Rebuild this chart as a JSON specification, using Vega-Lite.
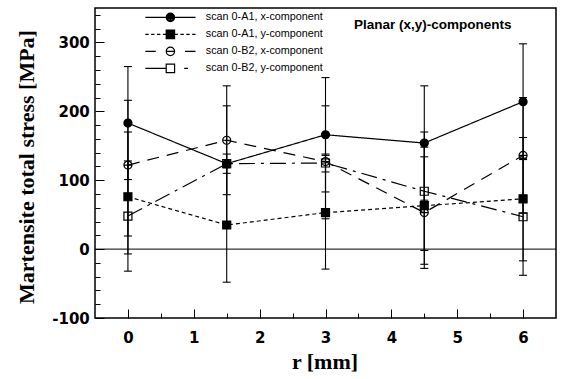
{
  "$schema": "https://vega.github.io/schema/vega-lite/v6.json",
  "width": 461,
  "height": 310,
  "autosize": {"type": "none"},
  "padding": {"left": 95, "top": 8, "right": 7, "bottom": 61},
  "background": "white",
  "config": {
    "view": {"stroke": "black", "strokeWidth": 1.5},
    "axis": {"grid": false, "domain": false, "tickColor": "black", "tickWidth": 1, "labelColor": "black", "titleColor": "black", "labelOverlap": false}
  },
  "title": {
    "text": "Planar (x,y)-components",
    "anchor": "start",
    "frame": "group",
    "offset": 0,
    "dx": 259,
    "dy": 34,
    "baseline": "alphabetic",
    "font": "Liberation Sans",
    "fontSize": 13.5,
    "fontWeight": "bold",
    "color": "black"
  },
  "data": {
    "values": [
      {"r": 0, "series": "scan 0-A1, x-component", "val": 183, "lo": 101, "hi": 265},
      {"r": 0, "series": "scan 0-A1, y-component", "val": 76, "lo": -7, "hi": 170},
      {"r": 0, "series": "scan 0-B2, x-component", "val": 122, "lo": 19, "hi": 216},
      {"r": 0, "series": "scan 0-B2, y-component", "val": 48, "lo": -32, "hi": 128},
      {"r": 1.5, "series": "scan 0-A1, x-component", "val": 124, "lo": 40, "hi": 208},
      {"r": 1.5, "series": "scan 0-A1, y-component", "val": 35, "lo": -48, "hi": 118},
      {"r": 1.5, "series": "scan 0-B2, x-component", "val": 158, "lo": 79, "hi": 237},
      {"r": 1.5, "series": "scan 0-B2, y-component", "val": 124, "lo": 110, "hi": 138},
      {"r": 3, "series": "scan 0-A1, x-component", "val": 166, "lo": 83, "hi": 249},
      {"r": 3, "series": "scan 0-A1, y-component", "val": 53, "lo": -29, "hi": 136},
      {"r": 3, "series": "scan 0-B2, x-component", "val": 127, "lo": 44, "hi": 208},
      {"r": 3, "series": "scan 0-B2, y-component", "val": 125, "lo": 112, "hi": 138},
      {"r": 4.5, "series": "scan 0-A1, x-component", "val": 154, "lo": 71, "hi": 237},
      {"r": 4.5, "series": "scan 0-A1, y-component", "val": 63, "lo": -22, "hi": 148},
      {"r": 4.5, "series": "scan 0-B2, x-component", "val": 53, "lo": -28, "hi": 134},
      {"r": 4.5, "series": "scan 0-B2, y-component", "val": 84, "lo": -2, "hi": 170},
      {"r": 6, "series": "scan 0-A1, x-component", "val": 214, "lo": 130, "hi": 298},
      {"r": 6, "series": "scan 0-A1, y-component", "val": 73, "lo": -17, "hi": 162},
      {"r": 6, "series": "scan 0-B2, x-component", "val": 136, "lo": 52, "hi": 220},
      {"r": 6, "series": "scan 0-B2, y-component", "val": 47, "lo": -38, "hi": 132}
    ]
  },
  "layer": [
    {
      "data": {"values": [{"zero": 0}]},
      "mark": {"type": "rule", "color": "black", "strokeWidth": 1},
      "encoding": {
        "y": {"field": "zero", "type": "quantitative", "scale": {"domain": [-100, 350], "nice": false, "zero": false}, "axis": null}
      }
    },
    {
      "mark": {"type": "rule", "color": "black", "strokeWidth": 1.1, "opacity": 1},
      "encoding": {
        "x": {
          "field": "r", "type": "quantitative",
          "scale": {"domain": [-0.5, 6.5], "nice": false, "zero": false},
          "axis": {
            "orient": "bottom",
            "values": [0, 1, 2, 3, 4, 5, 6],
            "labelExpr": "'' + datum.value",
            "tickSize": -9,
            "labelPadding": 21,
            "labelFont": "DejaVu Sans", "labelFontWeight": "bold", "labelFontSize": 15,
            "title": "r [mm]",
            "titleFont": "Liberation Serif", "titleFontWeight": "bold", "titleFontSize": 22,
            "titleX": 229.5, "titleY": 50, "titleBaseline": "alphabetic", "titleAlign": "center"
          }
        },
        "y": {
          "field": "lo", "type": "quantitative",
          "scale": {"domain": [-100, 350], "nice": false, "zero": false},
          "axis": {
            "orient": "left",
            "values": [-100, 0, 100, 200, 300],
            "labelExpr": "'' + datum.value",
            "tickSize": -9,
            "labelPadding": 14.7,
            "labelFont": "DejaVu Sans", "labelFontWeight": "bold", "labelFontSize": 15,
            "title": "Martensite total stress [MPa]",
            "titleFont": "Liberation Serif", "titleFontWeight": "bold", "titleFontSize": 22,
            "titleX": -62, "titleY": 158.5, "titleAngle": -90, "titleBaseline": "alphabetic", "titleAlign": "center"
          }
        },
        "y2": {"field": "hi"}
      }
    },
    {
      "mark": {"type": "tick", "orient": "horizontal", "size": 8, "thickness": 1.1, "color": "black", "opacity": 1},
      "encoding": {
        "x": {
          "field": "r", "type": "quantitative",
          "axis": {"orient": "bottom", "values": [0.5, 1.5, 2.5, 3.5, 4.5, 5.5], "labels": false, "tickSize": -5, "title": null}
        },
        "y": {
          "field": "lo", "type": "quantitative",
          "axis": {"orient": "left", "values": [-80, -60, -40, -20, 20, 40, 60, 80, 120, 140, 160, 180, 220, 240, 260, 280, 320, 340], "labels": false, "tickSize": -5, "title": null}
        }
      }
    },
    {
      "mark": {"type": "tick", "orient": "horizontal", "size": 8, "thickness": 1.1, "color": "black", "opacity": 1},
      "encoding": {
        "x": {"field": "r", "type": "quantitative", "axis": null},
        "y": {"field": "hi", "type": "quantitative", "axis": null}
      }
    },
    {
      "mark": {"type": "line", "color": "black", "strokeWidth": 1.2},
      "encoding": {
        "x": {"field": "r", "type": "quantitative", "axis": null},
        "y": {"field": "val", "type": "quantitative", "axis": null},
        "strokeDash": {
          "field": "series", "type": "nominal",
          "scale": {
            "domain": ["scan 0-A1, x-component", "scan 0-A1, y-component", "scan 0-B2, x-component", "scan 0-B2, y-component"],
            "range": [[1, 0], [4, 3], [12, 8], [16, 6, 3, 6]]
          },
          "legend": null
        }
      }
    },
    {
      "mark": {"type": "point", "filled": true, "stroke": "black", "strokeWidth": 1.2, "size": 64, "opacity": 1},
      "encoding": {
        "x": {"field": "r", "type": "quantitative", "axis": null},
        "y": {"field": "val", "type": "quantitative", "axis": null},
        "shape": {
          "field": "series", "type": "nominal",
          "scale": {
            "domain": ["scan 0-A1, x-component", "scan 0-A1, y-component", "scan 0-B2, x-component", "scan 0-B2, y-component"],
            "range": ["circle", "square", "M-1,0A1,1,0,1,1,1,0A1,1,0,1,1,-1,0ZM-1,0H1", "square"]
          },
          "legend": null
        },
        "fill": {
          "field": "series", "type": "nominal",
          "scale": {
            "domain": ["scan 0-A1, x-component", "scan 0-A1, y-component", "scan 0-B2, x-component", "scan 0-B2, y-component"],
            "range": ["black", "black", "transparent", "transparent"]
          },
          "legend": null
        }
      }
    },
    {
      "mark": {"type": "point", "color": "black", "opacity": 0, "size": 70},
      "encoding": {
        "x": {"field": "r", "type": "quantitative", "axis": null},
        "y": {"field": "val", "type": "quantitative", "axis": null},
        "shape": {
          "field": "series", "type": "nominal",
          "scale": {
            "domain": ["scan 0-A1, x-component", "scan 0-A1, y-component", "scan 0-B2, x-component", "scan 0-B2, y-component"],
            "range": [
              "M-6,0H-1M1,0H6M-1,0A1,1,0,1,1,1,0A1,1,0,1,1,-1,0ZM-0.75,0A0.75,0.75,0,1,1,0.75,0A0.75,0.75,0,1,1,-0.75,0ZM-0.5,0A0.5,0.5,0,1,1,0.5,0A0.5,0.5,0,1,1,-0.5,0ZM-0.25,0A0.25,0.25,0,1,1,0.25,0A0.25,0.25,0,1,1,-0.25,0ZM-0.1,0H0.1",
              "M-6,0H-5.2M-4.6,0H-3.8M-3.2,0H-2.4M-1.8,0H-1M1,0H1.8M2.4,0H3.2M3.8,0H4.6M5.2,0H6M-1,-1H1V1H-1ZM-0.75,-0.75H0.75V0.75H-0.75ZM-0.5,-0.5H0.5V0.5H-0.5ZM-0.25,-0.25H0.25V0.25H-0.25ZM-0.1,0H0.1",
              "M-6,0H-3.5M3.5,0H6M-1,0A1,1,0,1,1,1,0A1,1,0,1,1,-1,0ZM-1,0H1",
              "M-6,0H-1M-1,-1H1V1H-1ZM3.3,0H4.2"
            ]
          },
          "legend": {
            "orient": "none", "legendX": 70, "legendY": 4, "title": null, "padding": 0,
            "symbolSize": 70, "symbolStrokeWidth": 1.2, "symbolStrokeColor": "black",
            "labelFont": "Liberation Sans", "labelFontSize": 10.8, "labelColor": "black",
            "labelOffset": 30, "labelLimit": 300, "rowPadding": 3,
            "encode": {"symbols": {"opacity": {"value": 1}, "strokeOpacity": {"value": 1}}}
          }
        }
      }
    }
  ],
  "resolve": {
    "scale": {"shape": "independent"},
    "axis": {"x": "independent", "y": "independent"}
  }
}
